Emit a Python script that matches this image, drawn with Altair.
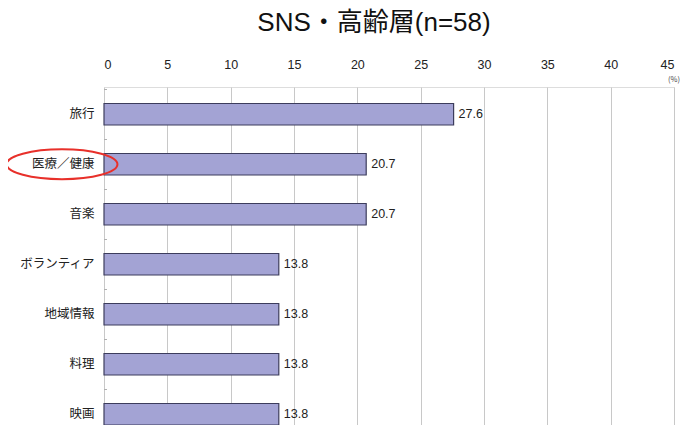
import altair as alt
import pandas as pd

categories = ["旅行", "医療／健康", "音楽", "ボランティア", "地域情報", "料理", "映画"]
values = [27.6, 20.7, 20.7, 13.8, 13.8, 13.8, 13.8]
x_ticks = [0, 5, 10, 15, 20, 25, 30, 35, 40, 45]
highlight = ["医療／健康"]

df = pd.DataFrame({"cat": categories, "val": values})
df["label"] = [f"{v:.1f}" for v in values]
hl = pd.DataFrame({"cat": highlight})
unit = pd.DataFrame({"x": [45], "t": ["(%)"]})

FONT = "Noto Sans CJK JP"
LATIN = "Liberation Sans Narrow, Liberation Sans, Noto Sans CJK JP"
TITLE_FONT = "Liberation Sans, Noto Sans CJK JP"

yscale = alt.Scale(domain=categories, paddingInner=0.57, paddingOuter=0.165, align=1.0)
xscale = alt.Scale(domain=[0, 45], nice=False)

bars = alt.Chart(df).mark_bar(
    fill="#a3a3d4", stroke="#3c3c5c", strokeWidth=1.2
).encode(
    x=alt.X("val:Q", scale=xscale,
            axis=alt.Axis(orient="top", values=x_ticks, title=None, tickSize=0,
                          labelPadding=16, labelFontSize=12.5, labelColor="#222",
                          labelFont=LATIN, domain=False, grid=True,
                          gridColor="#c8c8c8", gridWidth=1)),
    y=alt.Y("cat:N", scale=yscale, sort=categories,
            axis=alt.Axis(title=None, ticks=False, domain=False,
                          labelPadding=10, labelFontSize=12.5, labelColor="#222",
                          labelFont=FONT)),
)

text = alt.Chart(df).mark_text(
    align="left", baseline="middle", dx=5, fontSize=12.5, font=LATIN, color="#222"
).encode(
    x=alt.X("val:Q", scale=xscale),
    y=alt.Y("cat:N", scale=yscale, sort=categories),
    text="label:N",
)

ticks = alt.Chart(df).mark_rule(color="#b0b0b0", strokeWidth=1).encode(
    y=alt.Y("cat:N", scale=yscale, sort=categories, bandPosition=0),
    yOffset=alt.value(-14),
    x=alt.value(0), x2=alt.value(3),
)

ellipse = alt.Chart(hl).mark_point(
    shape="M -1 0 A 1 0.27 0 1 0 1 0 A 1 0.27 0 1 0 -1 0",
    size=12300, filled=False, stroke="#e8302a", strokeWidth=2, opacity=1
).encode(
    y=alt.Y("cat:N", scale=yscale, sort=categories),
    x=alt.value(-42),
)

unit_text = alt.Chart(unit).mark_text(
    fontSize=7.5, font=FONT, color="#444", baseline="middle"
).encode(
    x=alt.X("x:Q", scale=xscale),
    y=alt.value(-7),
    text="t:N",
)

chart = alt.layer(bars, text, ticks, ellipse, unit_text).properties(
    width=570, height=338,
    title=alt.TitleParams("SNS・高齢層(n=58)", fontSize=26, font=TITLE_FONT,
                          fontWeight="normal", color="#111", anchor="middle",
                          offset=22, dx=-15),
    autosize=alt.AutoSizeParams(type="none"),
    padding={"left": 96, "top": 79, "right": 8, "bottom": 0},
).configure_view(stroke="#b8b8b8", strokeWidth=1).configure(background="white")

chart.save("out.html", embed_options={"renderer": "svg", "actions": False})
